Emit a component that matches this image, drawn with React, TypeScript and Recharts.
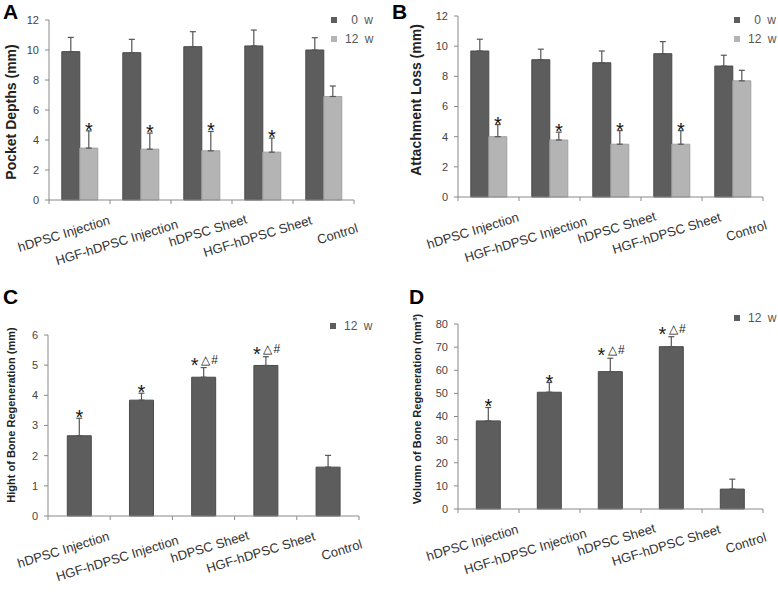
import React from 'react';
import { Bar, BarChart, ErrorBar, LabelList, Legend, XAxis, YAxis } from 'recharts';

const groups = ['hDPSC Injection', 'HGF-hDPSC Injection', 'hDPSC Sheet', 'HGF-hDPSC Sheet', 'Control'];

// A - pocket depths
const pocketW0 = [9.89, 9.82, 10.22, 10.27, 10.0];
const pocketW0Err = [0.95, 0.89, 1.0, 1.06, 0.82];
const pocketW12 = [3.46, 3.39, 3.28, 3.19, 6.9];
const pocketW12Err = [1.15, 1.07, 1.29, 0.94, 0.7];
const pocketMarks = ['*', '*', '*', '*', ''];

// B - attachment loss
const lossW0 = [9.68, 9.1, 8.9, 9.5, 8.68];
const lossW0Err = [0.78, 0.7, 0.78, 0.8, 0.72];
const lossW12 = [4.0, 3.78, 3.5, 3.5, 7.7];
const lossW12Err = [0.8, 0.52, 0.9, 0.9, 0.7];
const lossMarks = ['*', '*', '*', '*', ''];

// C - height of bone regeneration
const heightW12 = [2.66, 3.84, 4.6, 4.99, 1.62];
const heightErr = [0.58, 0.23, 0.32, 0.29, 0.39];
const heightMarks = ['*', '*', '*△#', '*△#', ''];

// D - volume of bone regeneration
const volumeW12 = [38.1, 50.5, 59.4, 70.2, 8.6];
const volumeErr = [5.8, 4.2, 5.8, 4.3, 4.3];
const volumeMarks = ['*', '*', '*△#', '*△#', ''];

const FONT = '"Liberation Sans", Arial, sans-serif';
const DARK = '#5d5d5d';
const DARK_EDGE = '#4a4a4a';
const LIGHT = '#b4b4b4';
const LIGHT_EDGE = '#a2a2a2';
const AXIS = '#8a8a8a';

// per-label nudge of the rotated category names (end point of the text)
const LABEL_NUDGE = [
  [31, 24],
  [38, 28],
  [46, 23],
  [50, 24],
  [35, 32],
];

type Series = {
  key: string;
  name: string;
  values: number[];
  errors: number[];
  marks?: string[];
  fill: string;
  edge: string;
};

const markContent = (s: Series) => (props: any) => {
  const { x, y, width, height, value, index } = props;
  if (!value) return null;
  const unit = Number(height) / s.values[index];
  const top = Number(y) - s.errors[index] * unit;
  const cx = Number(x) + Number(width) / 2;
  if (value === '*') {
    return (
      <text x={cx} y={top + 6} textAnchor="middle" fontSize={20} fill="#111" fontFamily={FONT}>
        *
      </text>
    );
  }
  return (
    <g fontFamily={FONT} fill="#222">
      <text x={cx - 9} y={top + 4} textAnchor="middle" fontSize={20}>*</text>
      <text x={cx + 2} y={top - 4} textAnchor="middle" fontSize={12}>△</text>
      <text x={cx + 11} y={top - 4} textAnchor="middle" fontSize={12}>#</text>
    </g>
  );
};

// category names, drawn off the first series' bars (category centre, axis baseline)
const nameContent = (paired: boolean) => (props: any) => {
  const { x, y, width, height, value, index } = props;
  const cx = paired ? Number(x) + Number(width) : Number(x) + Number(width) / 2;
  const base = Number(y) + Number(height);
  const [dx, dy] = LABEL_NUDGE[index] || [35, 26];
  const tx = cx + dx;
  const ty = base + dy;
  return (
    <text
      x={tx}
      y={ty}
      style={{ transform: 'rotate(-17deg)', transformOrigin: `${tx}px ${ty}px`, transformBox: 'view-box' }}
      textAnchor="end"
      fontSize={13}
      fill="#333"
      fontFamily={FONT}
    >
      {value}
    </text>
  );
};

const makeTick = (band: number) => (props: any) => {
  const { x, y, index } = props;
  return (
    <g>
      <line x1={x - band / 2} y1={y} x2={x - band / 2} y2={y + 4} stroke={AXIS} />
      {index === groups.length - 1 && <line x1={x + band / 2} y1={y} x2={x + band / 2} y2={y + 4} stroke={AXIS} />}
    </g>
  );
};

interface PanelProps {
  width: number;
  height: number;
  top: number;
  right: number;
  yWidth: number;
  xHeight: number;
  yMax: number;
  ticks: number[];
  series: Series[];
  categoryGap: string;
  yTitle: string;
  yTitleSize: number;
  yTitlePos: [number, number];
  legendPos: [number, number];
}

function BarPanel(p: PanelProps) {
  const data = groups.map((g, i) => {
    const row: Record<string, any> = { name: g };
    p.series.forEach((s) => {
      row[s.key] = s.values[i];
      row[`${s.key}Err`] = [0, s.errors[i]];
      row[`${s.key}Mark`] = s.marks ? s.marks[i] : '';
    });
    return row;
  });
  const band = (p.width - p.yWidth - p.right) / groups.length;
  const paired = p.series.length > 1;

  return (
    <BarChart
      width={p.width}
      height={p.height}
      data={data}
      margin={{ top: p.top, right: p.right, bottom: 0, left: 0 }}
      barCategoryGap={p.categoryGap}
      barGap={0}
    >
      <XAxis
        dataKey="name"
        interval={0}
        height={p.xHeight}
        tickSize={0}
        tickMargin={0}
        tickLine={false}
        axisLine={{ stroke: AXIS }}
        tick={makeTick(band)}
      />
      <YAxis
        domain={[0, p.yMax]}
        ticks={p.ticks}
        width={p.yWidth}
        tickSize={4}
        tickMargin={6}
        axisLine={{ stroke: AXIS }}
        tickLine={{ stroke: AXIS }}
        tick={{ fontSize: 11, fill: '#444', fontFamily: FONT }}
        label={{
          content: () => (
            <text
              x={p.yTitlePos[0]}
              y={p.yTitlePos[1]}
              transform={`rotate(-90 ${p.yTitlePos[0]} ${p.yTitlePos[1]})`}
              textAnchor="middle"
              dominantBaseline="central"
              fontSize={p.yTitleSize}
              fontWeight="bold"
              fill="#222"
              fontFamily={FONT}
            >
              {p.yTitle}
            </text>
          ),
        }}
      />
      <Legend
        layout="vertical"
        align="center"
        verticalAlign="middle"
        wrapperStyle={{ left: p.legendPos[0], top: p.legendPos[1], width: 44, height: 'auto' }}
        content={() => (
          <div style={{ fontFamily: FONT, whiteSpace: 'nowrap' }}>
            {p.series.map((s) => (
              <div key={s.key} style={{ display: 'flex', alignItems: 'center', height: 19, fontSize: 12, color: '#555' }}>
                <span style={{ display: 'inline-block', width: 6, height: 6, background: s.fill, marginRight: 8 }} />
                <span style={{ display: 'inline-block', width: 28, textAlign: 'right', wordSpacing: 3 }}>{s.name}</span>
              </div>
            ))}
          </div>
        )}
      />
      {p.series.map((s, si) => (
        <Bar key={s.key} dataKey={s.key} name={s.name} fill={s.fill} stroke={s.edge} isAnimationActive={false}>
          <ErrorBar dataKey={`${s.key}Err`} width={3} stroke="#555" strokeWidth={1.2} direction="y" isAnimationActive={false} />
          {s.marks && <LabelList dataKey={`${s.key}Mark`} content={markContent(s)} />}
          {si === 0 && <LabelList dataKey="name" content={nameContent(paired)} />}
        </Bar>
      ))}
    </BarChart>
  );
}

const letterStyle: React.CSSProperties = {
  position: 'absolute',
  fontFamily: FONT,
  fontWeight: 'bold',
  fontSize: 21,
  lineHeight: '21px',
  color: '#000',
};

export default function App() {
  const abTicks = [0, 2, 4, 6, 8, 10, 12];
  return (
    <div style={{ position: 'absolute', left: 0, top: 0, width: 778, height: 592, background: '#fff', overflow: 'hidden' }}>
      <div style={{ position: 'absolute', left: 0, top: 0 }}>
        <BarPanel
          width={390}
          height={290}
          top={20}
          right={36}
          yWidth={49}
          xHeight={90}
          yMax={12}
          ticks={abTicks}
          categoryGap="21%"
          yTitle="Pocket Depths (mm)"
          yTitleSize={14}
          yTitlePos={[11, 112]}
          legendPos={[331, 10]}
          series={[
            { key: 'w0', name: '0 w', values: pocketW0, errors: pocketW0Err, fill: DARK, edge: DARK_EDGE },
            { key: 'w12', name: '12 w', values: pocketW12, errors: pocketW12Err, marks: pocketMarks, fill: LIGHT, edge: LIGHT_EDGE },
          ]}
        />
      </div>
      <div style={{ position: 'absolute', left: 390, top: 0 }}>
        <BarPanel
          width={388}
          height={290}
          top={16}
          right={15}
          yWidth={68}
          xHeight={93}
          yMax={12}
          ticks={abTicks}
          categoryGap="21%"
          yTitle="Attachment Loss (mm)"
          yTitleSize={14}
          yTitlePos={[26, 100]}
          legendPos={[344, 10]}
          series={[
            { key: 'w0', name: '0 w', values: lossW0, errors: lossW0Err, fill: DARK, edge: DARK_EDGE },
            { key: 'w12', name: '12 w', values: lossW12, errors: lossW12Err, marks: lossMarks, fill: LIGHT, edge: LIGHT_EDGE },
          ]}
        />
      </div>
      <div style={{ position: 'absolute', left: 0, top: 290 }}>
        <BarPanel
          width={390}
          height={302}
          top={45}
          right={31}
          yWidth={48}
          xHeight={76}
          yMax={6}
          ticks={[0, 1, 2, 3, 4, 5, 6]}
          categoryGap="31%"
          yTitle="Hight of Bone Regeneration (mm)"
          yTitleSize={11}
          yTitlePos={[11, 125]}
          legendPos={[330, 26]}
          series={[{ key: 'w12', name: '12 w', values: heightW12, errors: heightErr, marks: heightMarks, fill: DARK, edge: DARK_EDGE }]}
        />
      </div>
      <div style={{ position: 'absolute', left: 390, top: 290 }}>
        <BarPanel
          width={388}
          height={302}
          top={34}
          right={15}
          yWidth={68}
          xHeight={83}
          yMax={80}
          ticks={[0, 10, 20, 30, 40, 50, 60, 70, 80]}
          categoryGap="30%"
          yTitle="Volumn of Bone Regeneration (mm³)"
          yTitleSize={11}
          yTitlePos={[27, 119]}
          legendPos={[344, 18]}
          series={[{ key: 'w12', name: '12 w', values: volumeW12, errors: volumeErr, marks: volumeMarks, fill: DARK, edge: DARK_EDGE }]}
        />
      </div>
      <div style={{ ...letterStyle, left: 3, top: 1 }}>A</div>
      <div style={{ ...letterStyle, left: 392, top: 1 }}>B</div>
      <div style={{ ...letterStyle, left: 3, top: 286 }}>C</div>
      <div style={{ ...letterStyle, left: 409, top: 286 }}>D</div>
    </div>
  );
}
